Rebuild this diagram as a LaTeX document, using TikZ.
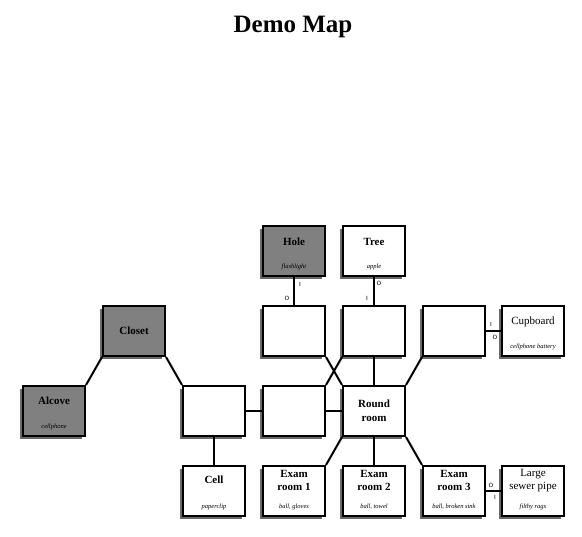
\documentclass[tikz,border=0pt]{standalone}
\usepackage{fontspec}
\setmainfont{Liberation Serif}
\usetikzlibrary{shadows}
\definecolor{roomgray}{RGB}{128,128,128}
\definecolor{shadowgray}{RGB}{105,105,105}
\tikzset{
  room/.style={draw=black, line width=2pt, fill=white, minimum width=62pt, minimum height=50pt, inner sep=0pt,
    drop shadow={shadow xshift=-3pt, shadow yshift=-3pt, fill=shadowgray, opacity=1}},
  dark/.style={fill=roomgray},
  conn/.style={line width=2pt},
  rname/.style={font=\bfseries\fontsize{11}{13}\selectfont, align=center, inner sep=0pt},
  rnamereg/.style={font=\fontsize{11}{13}\selectfont, align=center, inner sep=0pt},
  ritems/.style={font=\itshape\fontsize{6.5}{7}\selectfont, inner sep=0pt},
  tag/.style={font=\sffamily\fontsize{6}{6}\selectfont, inner sep=0pt}
}
\begin{document}
\begin{tikzpicture}[x=1pt,y=-1pt]
\useasboundingbox (0,0) rectangle (582,537);
\node[font=\bfseries\fontsize{25}{27}\selectfont, inner sep=0pt] (title) at (293,27) {Demo Map};

% rooms
\node[room,dark] (hole) at (294,251) {};
\node[room] (tree) at (374,251) {};
\node[room,dark] (closet) at (134,331) {};
\node[room] (a) at (294,331) {};
\node[room] (b) at (374,331) {};
\node[room] (c) at (454,331) {};
\node[room] (cupboard) at (533,331) {};
\node[room,dark] (alcove) at (54,411) {};
\node[room] (d) at (214,411) {};
\node[room] (e) at (294,411) {};
\node[room] (round) at (374,411) {};
\node[room] (cell) at (214,491) {};
\node[room] (exam1) at (294,491) {};
\node[room] (exam2) at (374,491) {};
\node[room] (exam3) at (454,491) {};
\node[room] (sewer) at (533,491) {};

% connectors
\draw[conn] (hole.south) -- (a.north);
\draw[conn] (tree.south) -- (b.north);
\draw[conn] (c.east) -- (cupboard.west);
\draw[conn] (closet.south west) -- (alcove.north east);
\draw[conn] (closet.south east) -- (d.north west);
\draw[conn] (d.east) -- (e.west);
\draw[conn] (e.east) -- (round.west);
\draw[conn] (d.south) -- (cell.north);
\draw[conn] (a.south east) -- (round.north west);
\draw[conn] (b.south west) -- (e.north east);
\draw[conn] (b.south) -- (round.north);
\draw[conn] (c.south west) -- (round.north east);
\draw[conn] (round.south west) -- (exam1.north east);
\draw[conn] (round.south) -- (exam2.north);
\draw[conn] (round.south east) -- (exam3.north west);
\draw[conn] (exam3.east) -- (sewer.west);

% tags
\node[tag] (t1) at ([xshift=6pt,yshift=-7pt]hole.south) {I};
\node[tag] (t2) at ([xshift=-7pt,yshift=7pt]a.north) {O};
\node[tag] (t3) at ([xshift=5pt,yshift=-6pt]tree.south) {O};
\node[tag] (t4) at ([xshift=-7pt,yshift=7pt]b.north) {I};
\node[tag] (t5) at ([xshift=5pt,yshift=7pt]c.east) {I};
\node[tag] (t6) at ([xshift=-6pt,yshift=-6pt]cupboard.west) {O};
\node[tag] (t7) at ([xshift=5pt,yshift=6pt]exam3.east) {O};
\node[tag] (t8) at ([xshift=-6pt,yshift=-6pt]sewer.west) {I};

% texts
\node[rname] (holeN) at ([yshift=-17pt]hole.north) {Hole};
\node[ritems] (holeI) at ([yshift=-42pt]hole.north) {flashlight};
\node[rname] (treeN) at ([yshift=-17pt]tree.north) {Tree};
\node[ritems] (treeI) at ([yshift=-42pt]tree.north) {apple};
\node[rname] (closetN) at (closet.center) {Closet};
\node[rnamereg] (cupN) at ([yshift=-17pt]cupboard.north) {Cupboard};
\node[ritems] (cupI) at ([yshift=-42pt]cupboard.north) {cellphone battery};
\node[rname] (alcoveN) at ([yshift=-16pt]alcove.north) {Alcove};
\node[ritems] (alcoveI) at ([yshift=-42pt]alcove.north) {cellphone};
\node[rname, font=\bfseries\fontsize{11}{14}\selectfont] (roundN) at (round.center) {Round\\room};
\node[rname] (cellN) at ([yshift=-15pt]cell.north) {Cell};
\node[ritems] (cellI) at ([yshift=-42pt]cell.north) {paperclip};
\node[rname] (exam1N) at ([yshift=-15.5pt]exam1.north) {Exam\\room 1};
\node[ritems] (exam1I) at ([yshift=-42pt]exam1.north) {ball, gloves};
\node[rname] (exam2N) at ([yshift=-15.5pt]exam2.north) {Exam\\room 2};
\node[ritems] (exam2I) at ([yshift=-42pt]exam2.north) {ball, towel};
\node[rname] (exam3N) at ([yshift=-15.5pt]exam3.north) {Exam\\room 3};
\node[ritems] (exam3I) at ([yshift=-42pt]exam3.north) {ball, broken sink};
\node[rnamereg] (sewerN) at ([yshift=-15.5pt]sewer.north) {Large\\sewer pipe};
\node[ritems] (sewerI) at ([yshift=-42pt]sewer.north) {filthy rags};
\end{tikzpicture}
\end{document}
